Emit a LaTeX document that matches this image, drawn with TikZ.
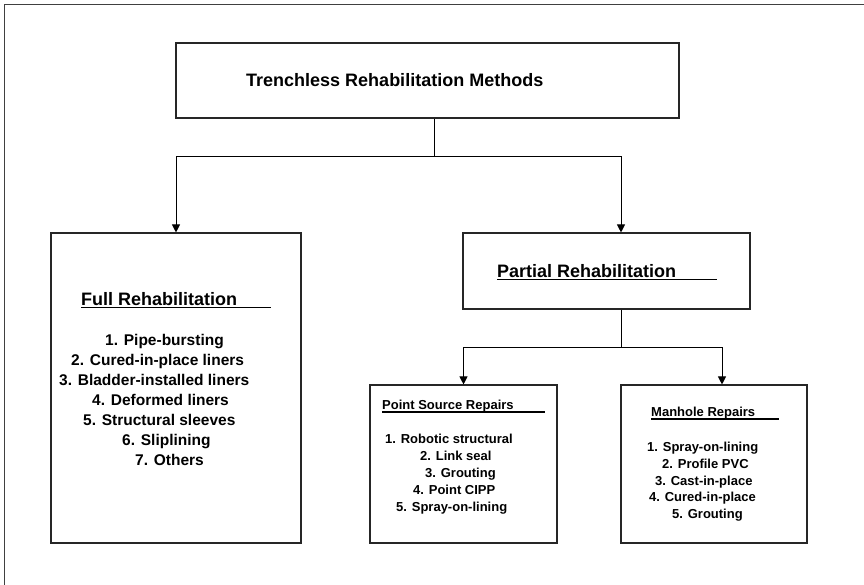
\documentclass[tikz,border=0pt]{standalone}
\usepackage{fontspec}
\setmainfont{Liberation Sans}
\usetikzlibrary{arrows.meta}
\begin{document}
\begin{tikzpicture}[x=1pt,y=-1pt,
  box/.style={draw=black!85,line width=1.1pt,rectangle,inner sep=0pt},
  head/.style={anchor=base west,inner sep=0pt,font=\bfseries\fontsize{18}{20}\selectfont},
  bighead/.style={head},
  biglist/.style={anchor=base west,inner sep=0pt,font=\bfseries\fontsize{15.5}{18}\selectfont},
  smallhead/.style={anchor=base west,inner sep=0pt,font=\bfseries\fontsize{13}{15}\selectfont},
  smalllist/.style={anchor=base west,inner sep=0pt,font=\bfseries\fontsize{13}{15}\selectfont},
  uline/.style={line width=1.6pt},
  suline/.style={line width=1.2pt},
  link/.style={draw=black,line width=1pt},
  arr/.style={link,-{Triangle[width=8pt,length=8pt]}}]
\useasboundingbox (0,0) rectangle (864,585);
% outer frame (left and top edges)
\draw[black!75,line width=1pt] (4,585) -- (4,5) -- (864,5);

% boxes
\node[box,minimum width=503pt,minimum height=75pt] (title) at (427.5,80.5) {};
\node[box,minimum width=250pt,minimum height=310pt] (full) at (176,388) {};
\node[box,minimum width=287pt,minimum height=76pt] (partial) at (606.5,271) {};
\node[box,minimum width=187pt,minimum height=158pt] (point) at (463.5,464) {};
\node[box,minimum width=186pt,minimum height=158pt] (manhole) at (714,464) {};

% headings
\node[head] (ttitle) at (246,87) {Trenchless Rehabilitation Methods};
\node[head] (tfull) at (81,305) {Full Rehabilitation};
\draw[uline] (81,307.5) -- (271,307.5);
\node[head] (tpartial) at (497,277) {Partial Rehabilitation};
\draw[uline] (497,279.5) -- (717,279.5);
\node[smallhead] (tpoint) at (382,409) {Point Source Repairs};
\draw[suline] (382,412) -- (545,412);
\node[smallhead] (tmanhole) at (651,416.5) {Manhole Repairs};
\draw[suline] (651,419) -- (779,419);

% full rehabilitation list
\node[biglist] (f1) at (105,345) {1. Pipe-bursting};
\node[biglist] (f2) at (71,365) {2. Cured-in-place liners};
\node[biglist] (f3) at (59,385) {3. Bladder-installed liners};
\node[biglist] (f4) at (92,405) {4. Deformed liners};
\node[biglist] (f5) at (83,425) {5. Structural sleeves};
\node[biglist] (f6) at (122,445) {6. Sliplining};
\node[biglist] (f7) at (135,465) {7. Others};

% point source repairs list
\node[smalllist] (p1) at (385,443) {1. Robotic structural};
\node[smalllist] (p2) at (420,460) {2. Link seal};
\node[smalllist] (p3) at (425,477) {3. Grouting};
\node[smalllist] (p4) at (413,494) {4. Point CIPP};
\node[smalllist] (p5) at (396,511) {5. Spray-on-lining};

% manhole repairs list
\node[smalllist] (m1) at (647,451.7) {1. Spray-on-lining};
\node[smalllist] (m2) at (662,468.3) {2. Profile PVC};
\node[smalllist] (m3) at (655,485) {3. Cast-in-place};
\node[smalllist] (m4) at (649,501.7) {4. Cured-in-place};
\node[smalllist] (m5) at (672,518.3) {5. Grouting};

% connectors
\coordinate (j1) at (434,157);
\coordinate (j2) at (621,347);
\draw[link] (title.south -| j1) -- (j1);
\draw[arr] (j1) -| (full.north);
\draw[arr] (j1) -| ([xshift=14.5pt]partial.north);
\draw[link] ([xshift=14.5pt]partial.south) -- (j2);
\draw[arr] (j2) -| (point.north);
\draw[arr] (j2) -| ([xshift=8pt]manhole.north);
\end{tikzpicture}
\end{document}
